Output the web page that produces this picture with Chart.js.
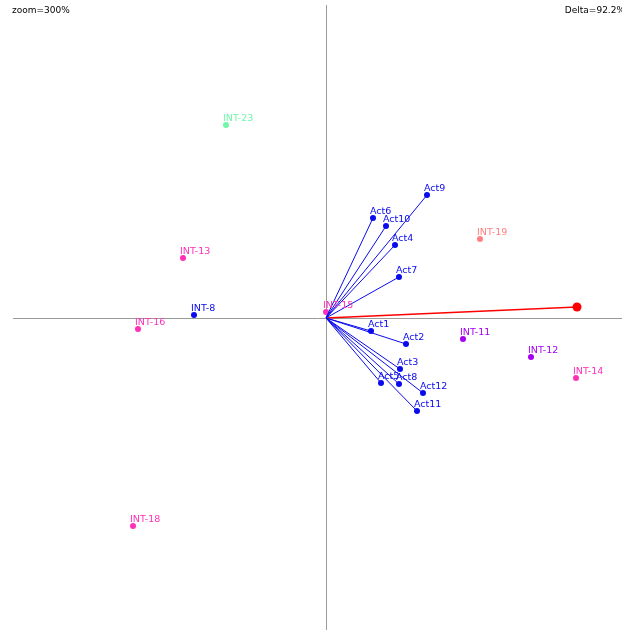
<!DOCTYPE html>
<html>
<head>
<meta charset="utf-8">
<script src="https://cdn.jsdelivr.net/npm/chart.js@4"></script>
<style>
  html, body { margin: 0; padding: 0; background: #fff; }
  #wrap { position: relative; width: 622px; height: 630px; }
  canvas { display: block; }
</style>
</head>
<body>
<div id="wrap"><canvas id="biplot" width="622" height="630"></canvas></div>
<script>
// Variable vectors (activities) in the first factorial plane
const actNames = ['Act1','Act2','Act3','Act4','Act5','Act6','Act7','Act8','Act9','Act10','Act11','Act12'];
const actX = [0.45, 0.80, 0.74, 0.69, 0.55, 0.47, 0.73, 0.73, 1.01, 0.60, 0.91, 0.97];
const actY = [-0.13, -0.26, -0.51, 0.73, -0.65, 1.00, 0.41, -0.66, 1.23, 0.92, -0.93, -0.75];

// Individuals (interviews) and their group colours
const intNames = ['INT-8','INT-11','INT-12','INT-13','INT-14','INT-15','INT-16','INT-18','INT-19','INT-23'];
const intX = [-1.32, 1.37, 2.05, -1.43, 2.50, 0.00, -1.88, -1.93, 1.54, -1.00];
const intY = [0.03, -0.21, -0.39, 0.60, -0.60, 0.06, -0.11, -2.08, 0.79, 1.93];
const intColors = ['#0a0aee','#a600f0','#a600f0','#ff30b8','#ff30b8','#ff30b8','#ff30b8','#ff30b8','#ff8080','#70f8a8'];

// Supplementary direction
const supX = [2.51];
const supY = [0.11];

const headerLeft = 'zoom=300%';
const headerRight = 'Delta=92.2%';

const ACT_COLOR = '#0a0aee';
const LABEL_FONT = '9.5px "DejaVu Sans", Verdana, sans-serif';

const datasets = [];

// one segment per activity, from the origin to its coordinates
actNames.forEach((name, i) => {
  datasets.push({
    label: name,
    data: [{ x: 0, y: 0 }, { x: actX[i], y: actY[i] }],
    showLine: true,
    borderColor: ACT_COLOR,
    borderWidth: 1,
    backgroundColor: ACT_COLOR,
    pointRadius: [0, 3],
    pointBorderWidth: 0,
    labelColor: ACT_COLOR,
    labelIndex: 1
  });
});

// supplementary vector
datasets.push({
  label: 'sup',
  data: [{ x: 0, y: 0 }, { x: supX[0], y: supY[0] }],
  showLine: true,
  borderColor: '#ff0000',
  borderWidth: 1.5,
  backgroundColor: '#ff0000',
  pointRadius: [0, 4.5],
  pointBorderWidth: 0
});

// individuals
intNames.forEach((name, i) => {
  datasets.push({
    label: name,
    data: [{ x: intX[i], y: intY[i] }],
    backgroundColor: intColors[i],
    borderColor: intColors[i],
    pointRadius: 3,
    pointBorderWidth: 0,
    labelColor: intColors[i],
    labelIndex: 0
  });
});

// axis lines through the origin
const originAxes = {
  id: 'originAxes',
  beforeDatasetsDraw(chart) {
    const { ctx, scales: { x, y } } = chart;
    const x0 = Math.round(x.getPixelForValue(0)) + 0.5;
    const y0 = Math.round(y.getPixelForValue(0)) + 0.5;
    ctx.save();
    ctx.strokeStyle = '#9a9a9a';
    ctx.lineWidth = 1;
    ctx.beginPath();
    ctx.moveTo(x0, 5);
    ctx.lineTo(x0, chart.height);
    ctx.moveTo(13, y0);
    ctx.lineTo(chart.width, y0);
    ctx.stroke();
    ctx.restore();
  }
};

// point labels and header texts
const pointLabels = {
  id: 'pointLabels',
  afterDatasetsDraw(chart) {
    const { ctx } = chart;
    ctx.save();
    ctx.font = LABEL_FONT;
    ctx.textAlign = 'left';
    ctx.textBaseline = 'alphabetic';
    chart.data.datasets.forEach((ds, di) => {
      if (ds.labelIndex === undefined) return;
      const el = chart.getDatasetMeta(di).data[ds.labelIndex];
      ctx.fillStyle = ds.labelColor;
      ctx.fillText(ds.label, el.x - 3, el.y - 4);
    });
    ctx.font = '9px "DejaVu Sans", Verdana, sans-serif';
    ctx.fillStyle = '#000';
    ctx.textBaseline = 'top';
    ctx.fillText(headerLeft, 12, 6);
    ctx.textAlign = 'right';
    ctx.fillText(headerRight, chart.width + 3, 6);
    ctx.restore();
  }
};

new Chart(document.getElementById('biplot'), {
  type: 'scatter',
  data: { datasets },
  options: {
    responsive: false,
    animation: false,
    layout: { padding: 0, autoPadding: false },
    plugins: { legend: { display: false }, tooltip: { enabled: false } },
    scales: {
      x: { type: 'linear', min: -3.26, max: 2.96, display: false },
      y: { type: 'linear', min: -3.12, max: 3.18, display: false }
    }
  },
  plugins: [originAxes, pointLabels]
});
</script>
</body>
</html>
